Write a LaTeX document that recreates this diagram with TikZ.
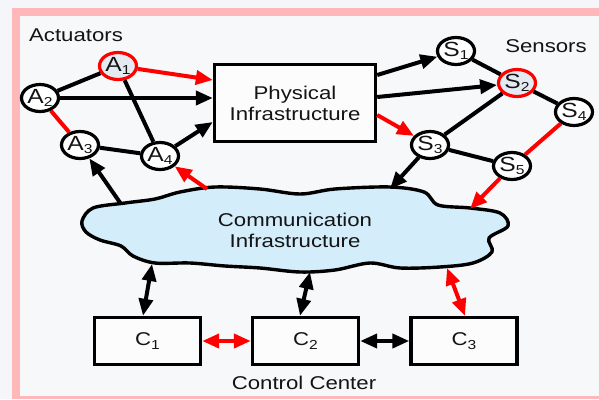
\documentclass[tikz,border=0pt]{standalone}
\usepackage{fontspec}
\setmainfont[FakeStretch=1.2]{Liberation Sans}
\usetikzlibrary{arrows.meta,shapes.geometric}

\definecolor{pagebg}{HTML}{F4F6F9}
\definecolor{framepink}{HTML}{FFB8BA}
\definecolor{panel}{HTML}{F7F8FA}
\definecolor{cloudblue}{HTML}{D3EDFA}
\definecolor{hotfill}{HTML}{E4EAF1}
\definecolor{ink}{HTML}{141414}
\definecolor{alert}{HTML}{FF0000}

% index digit set below the letter, as in A1, S2, C3
\newcommand\subidx[1]{\raisebox{-3.5pt}{\fontsize{13}{13}\selectfont #1}}

\tikzset{
  dev/.style={ellipse, draw=black, line width=3.2pt, fill=white,
    minimum width=37pt, minimum height=27pt, inner sep=0pt,
    font=\fontsize{20.5}{20.5}\selectfont, text=ink},
  hot/.style={dev, draw=alert, fill=hotfill},
  block/.style={rectangle, draw=black, line width=3.4pt, fill=white!60!panel,
    inner sep=0pt, font=\fontsize{18.5}{21}\selectfont, text=ink, align=center},
  title/.style={font=\fontsize{18.5}{21}\selectfont, text=ink},
  link/.style={line width=4pt, black},
  tip/.tip={Triangle[length=17pt,width=14pt]},
  flow/.style={link, -tip},
  duplex/.style={link, tip-tip}
}

\begin{document}
\begin{tikzpicture}[x=1pt,y=-1pt]
  % page and pink frame
  \useasboundingbox (0,0) rectangle (599,399);
  \fill[pagebg] (0,0) rectangle (599,399);
  \fill[framepink] (12,8) rectangle (599,399);
  \fill[panel] (20,16) rectangle (599,396);

  % headings
  \node[title] (actlab) at (76,35) {Actuators};
  \node[title] (senlab) at (546,46) {Sensors};
  \node[title] (ctrllab) at (304,383) {Control Center};

  % network cloud outline
  \draw[line width=3.4pt, fill=cloudblue, line join=round]
    plot[smooth cycle, tension=0.55] coordinates {
      (82,221) (93,208) (125,203) (155,199) (180,192) (215,187) (260,189)
      (300,194) (335,189) (390,187) (424,192) (438,205) (470,208) (500,213)
      (508,226) (489,238) (492,252) (473,263) (440,267) (400,268) (370,263)
      (335,270) (300,272) (260,268) (225,266) (190,263) (155,263) (133,256)
      (121,246) (100,240) (86,232)};
  \node[title, align=center] (net) at (295,230) {Communication\\Infrastructure};

  % points where links meet the cloud
  \coordinate (netA3) at (121,204);
  \coordinate (netA4) at (207,189);
  \coordinate (netS3) at (390,189);
  \coordinate (netS5) at (470,209);
  \coordinate (netC1) at (152,264);
  \coordinate (netC2) at (310,272);
  \coordinate (netC3) at (447,268);

  % physical plant
  \node[block, minimum width=161pt, minimum height=77pt] (phys) at (295,103)
    {Physical\\Infrastructure};

  % actuators
  \node[hot] (A1) at (118,66) {A\subidx{1}};
  \node[dev] (A2) at (40,98) {A\subidx{2}};
  \node[dev] (A3) at (80,145) {A\subidx{3}};
  \node[dev] (A4) at (160,156) {A\subidx{4}};

  % sensors
  \node[dev] (S1) at (456,51) {S\subidx{1}};
  \node[hot] (S2) at (517,83) {S\subidx{2}};
  \node[dev] (S3) at (430,145) {S\subidx{3}};
  \node[dev] (S4) at (574,112) {S\subidx{4}};
  \node[dev] (S5) at (512,166) {S\subidx{5}};

  % controllers
  \node[block, minimum width=106pt, minimum height=47pt] (C1) at (147.5,341) {C\subidx{1}};
  \node[block, minimum width=106pt, minimum height=47pt] (C2) at (305.5,341) {C\subidx{2}};
  \node[block, minimum width=106pt, minimum height=47pt] (C3) at (464,341) {C\subidx{3}};

  % actuator links
  \draw[link] (A1) -- (A2);
  \draw[link] (A1) -- (A4);
  \draw[link] (A3) -- (A4);
  \draw[link, alert] (A2) -- (A3);
  \draw[flow, alert] (A1) -- ([yshift=23pt]phys.west);
  \draw[flow] (A2) -- (A2 -| phys.west);
  \draw[flow] (A4) -- ([yshift=-19pt]phys.west);

  % sensor links
  \draw[flow] ([yshift=28pt]phys.east) -- (S1);
  \draw[flow] ([yshift=6pt]phys.east) -- (S2);
  \draw[flow, alert] ([yshift=-12pt]phys.east) -- (S3);
  \draw[link] (S1) -- (S2);
  \draw[link] (S2) -- (S4);
  \draw[link] (S2) -- (S3);
  \draw[link] (S3) -- (S5);
  \draw[link, alert] (S4) -- (S5);

  % network links
  \draw[flow, alert] (S5) -- (netS5);
  \draw[flow] (S3) -- (netS3);
  \draw[flow] (netA3) -- (A3);
  \draw[flow, alert] (netA4) -- (A4);
  \draw[duplex] (netC1) -- ([xshift=-4.5pt]C1.north);
  \draw[duplex] (netC2) -- ([xshift=-5.5pt]C2.north);
  \draw[duplex, alert] (netC3) -- ([xshift=1pt]C3.north);

  % controller links
  \draw[duplex, alert] (C1) -- (C2);
  \draw[duplex] (C2) -- (C3);
\end{tikzpicture}
\end{document}
